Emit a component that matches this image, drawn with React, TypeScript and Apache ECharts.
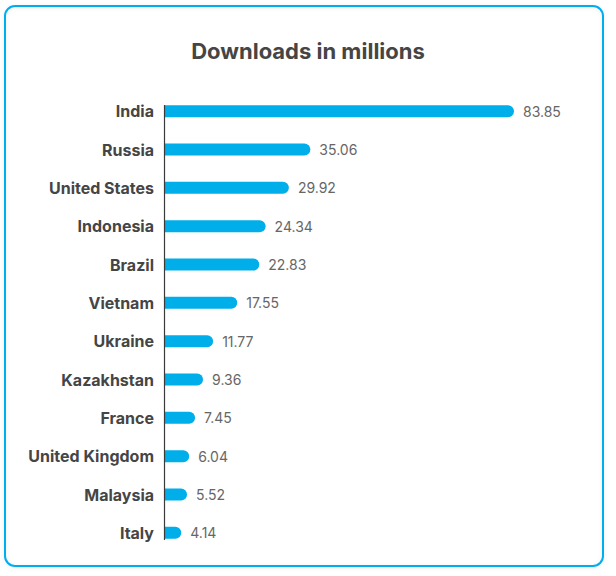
import React, { useEffect, useRef } from "react";
import * as echarts from "echarts";

const countries = [
  "India",
  "Russia",
  "United States",
  "Indonesia",
  "Brazil",
  "Vietnam",
  "Ukraine",
  "Kazakhstan",
  "France",
  "United Kingdom",
  "Malaysia",
  "Italy",
];
const downloads = [83.85, 35.06, 29.92, 24.34, 22.83, 17.55, 11.77, 9.36, 7.45, 6.04, 5.52, 4.14];
const titleText = "Downloads in millions";

export default function App() {
  const ref = useRef<HTMLDivElement>(null);
  useEffect(() => {
    if (!ref.current) return;
    const chart = echarts.init(ref.current, null, { renderer: "svg" });
    chart.setOption({
      animation: false,
      backgroundColor: "#ffffff",
      title: {
        text: titleText,
        left: "center",
        top: 35,
        textStyle: { fontFamily: "Inter", fontWeight: "bold", fontSize: 22, color: "#454545" },
      },
      graphic: [
        {
          type: "rect",
          shape: { x: 5, y: 6, width: 598, height: 560, r: 10 },
          style: { fill: "none", stroke: "#00AEEF", lineWidth: 2, shadowBlur: 4, shadowColor: "rgba(0,0,0,0.08)", shadowOffsetY: 1 },
          z: -1,
        },
        {
          type: "line",
          shape: { x1: 164.5, y1: 105, x2: 164.5, y2: 540 },
          style: { stroke: "#3a3a3a", lineWidth: 1.2 },
          z: 10,
        },
      ],
      grid: { left: 164, top: 92, height: 460, width: 350, containLabel: false },
      xAxis: {
        type: "value",
        min: 0,
        max: 83.85,
        show: false,
      },
      yAxis: {
        type: "category",
        data: countries,
        inverse: true,
        axisLine: { show: false },
        axisTick: { show: false },
        axisLabel: {
          margin: 10,
          fontFamily: "Inter",
          fontWeight: "bold",
          fontSize: 16,
          color: "#454545",
        },
      },
      series: [
        {
          type: "bar",
          data: downloads,
          barWidth: 12,
          itemStyle: { color: "#00AEEA", borderRadius: [0, 6, 6, 0] },
          label: {
            show: true,
            position: "right",
            distance: 9,
            fontFamily: "Inter",
            fontSize: 14,
            color: "#666666",
            formatter: (p: any) => p.value.toFixed(2),
          },
        },
      ],
    });
    return () => chart.dispose();
  }, []);
  return (
    <div
      ref={ref}
      style={{ position: "fixed", left: 0, top: 0, width: 616, height: 576 }}
    />
  );
}
